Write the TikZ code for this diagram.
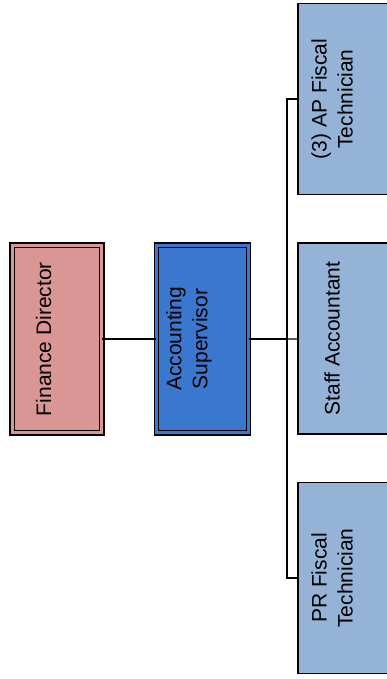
\documentclass[tikz,border=0pt]{standalone}
\usepackage{fontspec}
\setmainfont{Liberation Sans}
\usepackage{tikz}
\usetikzlibrary{shapes, positioning, calc}

\definecolor{headpink}{RGB}{217,150,148}
\definecolor{supblue}{RGB}{58,120,208}
\definecolor{staffblue}{RGB}{149,179,215}

\begin{document}
\begin{tikzpicture}[x=1pt, y=-1pt,
        headbox/.style={rectangle, rotate=90, draw=black, line width=1.2pt, double=headpink, double distance=3.3pt, minimum width=187.5pt, minimum height=89.5pt, inner sep=0pt},
        supbox/.style={rectangle, rotate=90, draw=black, line width=1.2pt, double=supblue, double distance=3.3pt, minimum width=187.5pt, minimum height=92pt, inner sep=0pt},
        staffbox/.style={rectangle, rotate=90, draw=black, line width=1.4pt, fill=staffblue, minimum width=191pt, minimum height=94pt, inner sep=0pt},
        boxtext/.style={rotate=90, align=center, font=\fontsize{21}{26}\selectfont, inner sep=0pt},
        line/.style={draw=black, line width=1.3pt}
    ]
        \useasboundingbox (0,0) rectangle (386,679);

        % ----------------------------------------------------
        % BOXES
        % ----------------------------------------------------
        \node[headbox, fill=headpink] (fd) at (57, 339) {};
        \node[supbox, fill=supblue] (sup) at (202.5, 339) {};

        \node[staffbox] (ap) at (345, 99) {};
        \node[staffbox] (staff) at (345, 338.5) {};
        \node[staffbox] (pr) at (345, 578) {};

        % ----------------------------------------------------
        % LABELS
        % ----------------------------------------------------
        \node[boxtext] (fdtxt) at (43.5, 339) {Finance Director};
        \node[boxtext] (suptxt) at (189, 339) {Accounting\\Supervisor};
        \node[boxtext] (aptxt) at (332, 99) {(3) AP Fiscal\\Technician};
        \node[boxtext] (stafftxt) at (332, 338.5) {Staff Accountant};
        \node[boxtext] (prtxt) at (332, 578) {PR Fiscal\\Technician};

        % ----------------------------------------------------
        % CONNECTIONS
        % ----------------------------------------------------
        \coordinate (trunk) at (287, 339);

        \draw[line] (fd) -- (sup);
        \draw[line, line width=2.3pt] (sup) -- (trunk);
        \draw[line] (trunk) -- (staff);
        \draw[line] (ap.north) -| (trunk) |- (pr.north);

\end{tikzpicture}
\end{document}
